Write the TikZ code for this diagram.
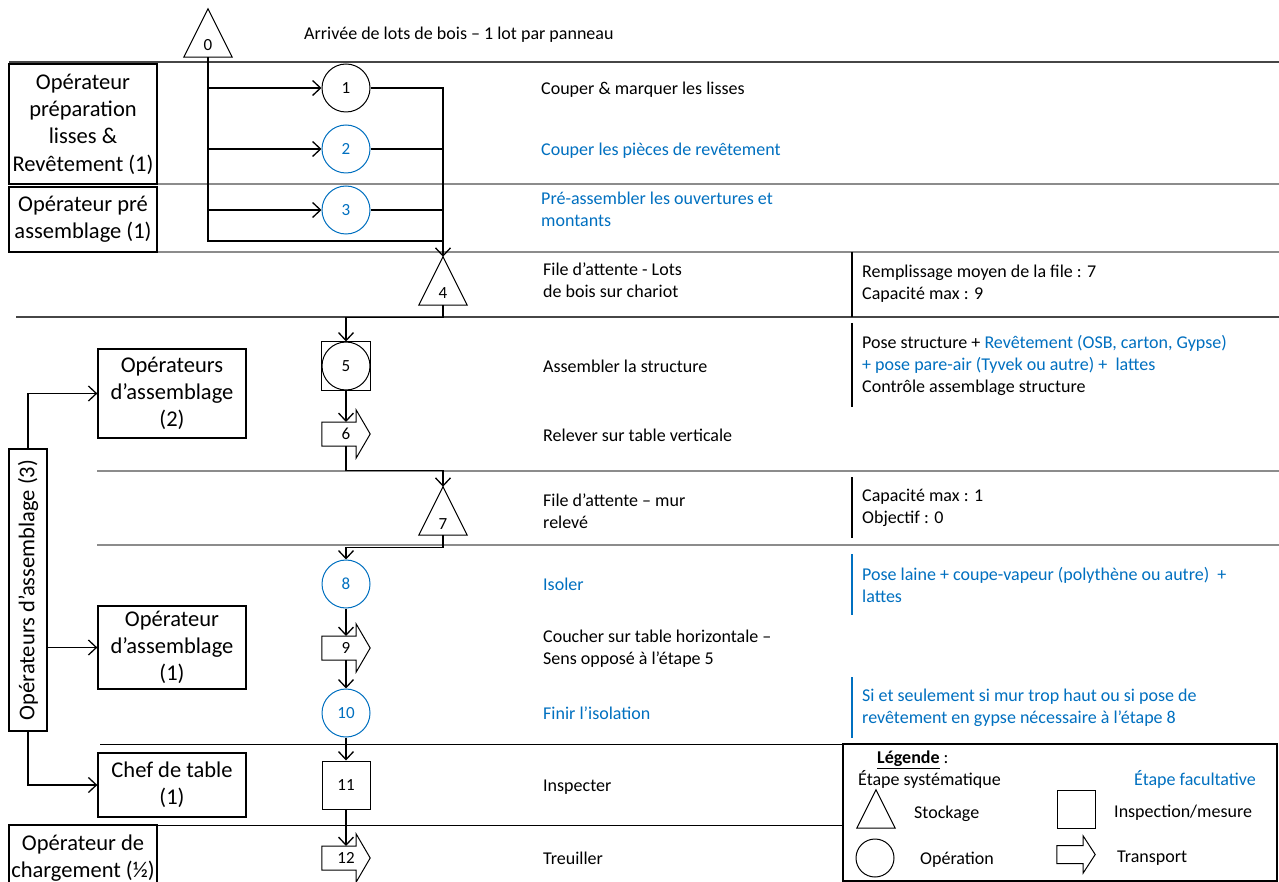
\documentclass[tikz,border=0pt]{standalone}
\usepackage{fontspec}
\setmainfont{Carlito}
\usetikzlibrary{arrows.meta,calc}
\definecolor{fblue}{RGB}{0,112,192}
\definecolor{lanegray}{RGB}{140,140,140}
\definecolor{lanedark}{RGB}{70,70,70}
\newcommand\txtfont{\fontsize{18}{22}\selectfont}
\newcommand\boxfont{\fontsize{22.5}{27.3}\selectfont}
\newcommand\numfont{\fontsize{17}{20}\selectfont}
\newcommand\trishape[1]{\draw[shapeline] (#1.north) -- (#1.south east) -- (#1.south west) -- cycle;}
\newcommand\barrowshape[4]{\draw[shapeline] ($(#1.west)+(0pt,#2)$) -- ($(#1.east)+(-#4,#2)$) -- ($(#1.east)+(-#4,#3)$) -- (#1.east) -- ($(#1.east)+(-#4,-#3)$) -- ($(#1.east)+(-#4,-#2)$) -- ($(#1.west)+(0pt,-#2)$) -- cycle;}
\tikzset{
  shapeline/.style={line width=1pt},
  conn/.style={line width=1.3pt},
  arr/.style={conn, -{Straight Barb[length=8pt,width=15pt]}},
  lane/.style={line width=1.1pt, draw=lanegray},
  darklane/.style={line width=1.1pt, draw=lanedark},
  blackline/.style={line width=1pt, draw=black},
  sepline/.style={line width=1.1pt},
  opbox/.style={draw, line width=1.3pt, align=center, font=\boxfont, inner sep=0pt, minimum width=148pt},
  slot/.style={minimum width=48pt, minimum height=48pt, inner sep=0pt, font=\numfont},
  opcircle/.style={circle, draw, line width=1pt, minimum size=48pt, inner sep=0pt, font=\numfont},
  bluecircle/.style={opcircle, draw=fblue, text=fblue},
  sqnode/.style={slot, draw, line width=1pt},
  numlabel/.style={font=\numfont, inner sep=0pt},
  txt/.style={anchor=west, inner sep=0pt, yshift=-2pt, align=left, font=\txtfont, execute at begin node=\strut, execute at end node=\strut},
  btxt/.style={txt, text=fblue},
}
\begin{document}
\begin{tikzpicture}[x=1pt,y=-1pt]
\useasboundingbox (0,0) rectangle (1279,882);
\fill[white] (0,0) rectangle (1279,882);
\clip (0,0) rectangle (1279,882);

% lane separators
\draw[darklane] (9,62) -- (1279,62);
\draw[lane] (9,184) -- (1279,184);
\draw[lane] (9,252) -- (1279,252);
\draw[darklane] (16,317) -- (1279,317);
\draw[lane] (97,471) -- (1279,471);
\draw[lane] (97,545) -- (1279,545);
\draw[blackline] (100,744) -- (843,744);
\draw[blackline] (157,825) -- (843,825);

% column separators
\draw[sepline] (852,252) -- (852,317);
\draw[sepline] (852,323) -- (852,407);
\draw[sepline] (852,477) -- (852,538);
\draw[sepline, fblue] (852,554) -- (852,615);
\draw[sepline, fblue] (852,677) -- (852,738);

% operator boxes
\node[opbox, minimum height=120pt, fill=white] (b1) at (83,124) {Opérateur\\préparation\\lisses \&\\Revêtement (1)};
\node[opbox, minimum height=65pt, fill=white] (b2) at (83,219.5) {Opérateur pré\\assemblage (1)};
\node[opbox, minimum height=89pt] (b3) at (172,393.5) {Opérateurs\\d’assemblage\\(2)};
\node[opbox, rotate=90, minimum width=282pt, minimum height=38pt] (vb) at (28,590) {Opérateurs d’assemblage (3)};
\node[opbox, minimum height=83pt] (b4) at (172,647.5) {Opérateur\\d’assemblage\\(1)};
\node[opbox, minimum height=64pt] (b5) at (172,785) {Chef de table\\(1)};
\node[opbox, minimum height=66pt] (b6) at (83,858) {Opérateur de\\chargement (½)};

\draw[arr] (vb.east) |- (b3.west);
\draw[arr] (vb.south |- b4.west) -- (b4.west);
\draw[arr] (vb.west) |- (b5.west);

% process symbols
\node[slot] (n0) at (208,33) {};
\trishape{n0}
\node[numlabel] (n0l) at ($(n0.south)+(0pt,12pt)$) {0};

\node[opcircle] (n1) at (346,88) {1};
\node[bluecircle] (n2) at (346,149) {2};
\node[bluecircle] (n3) at (346,210) {3};

\node[slot] (n4) at (443,281) {};
\trishape{n4}
\node[numlabel] (n4l) at ($(n4.south)+(0pt,12pt)$) {4};

\node[opcircle] (n5) at (346,366) {5};
\draw[shapeline] (n5.north -| n5.west) rectangle (n5.south -| n5.east);

\node[slot] (n6) at (346,434) {6};
\barrowshape{n6}{12pt}{24pt}{14pt}

\node[slot] (n7) at (443,511) {};
\trishape{n7}
\node[numlabel] (n7l) at ($(n7.south)+(0pt,11pt)$) {7};

\node[bluecircle] (n8) at (346,584) {8};
\node[slot] (n9) at (346,648) {9};
\barrowshape{n9}{12pt}{24pt}{14pt}
\node[bluecircle] (n10) at (346,713) {10};
\node[sqnode] (n11) at (346,785) {11};
\node[slot] (n12) at (346,858) {12};
\barrowshape{n12}{12pt}{24pt}{14pt}

% connectors
\coordinate (m1) at (443,241);
\draw[conn] (n0.south) |- (m1);
\draw[arr] (n0.south |- n1.west) -- (n1.west);
\draw[arr] (n0.south |- n2.west) -- (n2.west);
\draw[arr] (n0.south |- n3.west) -- (n3.west);
\draw[arr] (n1.east) -| (n4.north);
\draw[conn] (n2.east) -- (n2.east -| n4.north);
\draw[conn] (n3.east) -- (n3.east -| n4.north);
\draw[arr] (n4.south) -- ++(0,12) -| (n5.north);
\draw[arr] (n5.south) -- ($(n6.center)+(0pt,12pt)$);
\draw[arr] ($(n6.center)+(0pt,-12pt)$) |- ($(n7.north)+(0pt,16pt)$) -- (n7.north);
\draw[arr] (n7.south) -- ++(0,12) -| (n8.north);
\draw[arr] (n8.south) -- ($(n9.center)+(0pt,12pt)$);
\draw[arr] ($(n9.center)+(0pt,-12pt)$) -- (n10.north);
\draw[arr] (n10.south) -- (n11.north);
\draw[arr] (n11.south) -- ($(n12.center)+(0pt,12pt)$);

% texts
\node[txt] (t0) at (304,33) {Arrivée de lots de bois – 1 lot par panneau};
\node[txt] (t1) at (541,88) {Couper \& marquer les lisses};
\node[btxt] (t2) at (541,149) {Couper les pièces de revêtement};
\node[btxt] (t3) at (541,210.5) {Pré-assembler les ouvertures et\\montants};
\node[txt] (t4) at (543,281.5) {File d’attente - Lots\\de bois sur chariot};
\node[txt] (t4b) at (862,284) {Remplissage moyen de la file : 7\\Capacité max : 9};
\node[txt] (t5) at (543,366) {Assembler la structure};
\node[txt] (t5b) at (862,365) {Pose structure + \textcolor{fblue}{Revêtement (OSB, carton, Gypse)}\\\textcolor{fblue}{+ pose pare-air (Tyvek ou autre) +\ \ lattes}\\Contrôle assemblage structure};
\node[txt] (t6) at (543,435) {Relever sur table verticale};
\node[txt] (t7) at (543,512.5) {File d’attente – mur\\relevé};
\node[txt] (t7b) at (862,508) {Capacité max : 1\\Objectif : 0};
\node[btxt] (t8) at (543,584) {Isoler};
\node[btxt] (t8b) at (862,586) {Pose laine + coupe-vapeur (polythène ou autre)\ \ +\\lattes};
\node[txt] (t9) at (543,648.5) {Coucher sur table horizontale –\\Sens opposé à l’étape 5};
\node[btxt] (t10) at (543,713) {Finir l’isolation};
\node[btxt] (t10b) at (862,708) {Si et seulement si mur trop haut ou si pose de\\revêtement en gypse nécessaire à l’étape 8};
\node[txt] (t11) at (543,785) {Inspecter};
\node[txt] (t12) at (543,858) {Treuiller};

% legend
\draw[line width=1.3pt] (843,744) rectangle (1277,881);
\node[txt] (lg0) at (877,757) {\textbf{\underline{Légende}} :};
\node[txt] (lg1) at (858,779) {Étape systématique};
\node[btxt] (lg2) at (1134,779) {Étape facultative};
\node[minimum width=38pt, minimum height=38pt, inner sep=0pt] (lt) at (876,809) {};
\trishape{lt}
\node[txt] (lg3) at (914,812) {Stockage};
\node[draw, line width=1pt, minimum width=38pt, minimum height=38pt, inner sep=0pt] (ls) at (1076,809) {};
\node[txt] (lg4) at (1114,811) {Inspection/mesure};
\node[circle, draw, line width=1pt, minimum size=38pt, inner sep=0pt] (lc) at (875,858) {};
\node[txt] (lg5) at (920,858) {Opération};
\node[minimum width=38pt, minimum height=37pt, inner sep=0pt] (la) at (1076,854.5) {};
\barrowshape{la}{9pt}{18.5pt}{12pt}
\node[txt] (lg6) at (1117,856) {Transport};
\end{tikzpicture}
\end{document}
